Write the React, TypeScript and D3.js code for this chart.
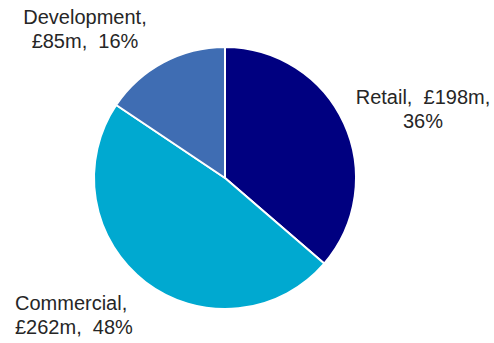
import React from "react";
import * as d3 from "d3";

const categories = ["Retail", "Commercial", "Development"];
const values = [198, 262, 85];
const colors = ["#000080", "#00A9D0", "#3F6DB3"];
const labelLines = [
  ["Retail,  £198m,", "36%"],
  ["Commercial,", "£262m,  48%"],
  ["Development,", "£85m,  16%"],
];
const labelPos = [
  { x: 423, y: 104, anchor: "middle" },
  { x: 15, y: 310, anchor: "start" },
  { x: 85, y: 24, anchor: "middle" },
];

export default function App() {
  const width = 494;
  const height = 343;
  const cx = 225;
  const cy = 178;
  const r = 131;
  const pie = d3.pie<number>().sort(null).value((d) => d);
  const arcs = pie(values);
  const arc = d3.arc<d3.PieArcDatum<number>>().innerRadius(0).outerRadius(r);
  return (
    <svg
      width={width}
      height={height}
      style={{ position: "absolute", left: 0, top: 0, background: "#fff" }}
      fontFamily="'Liberation Sans', Arial, sans-serif"
    >
      <g transform={`translate(${cx},${cy})`}>
        {arcs.map((a, i) => (
          <path
            key={categories[i]}
            d={arc(a) || ""}
            fill={colors[i]}
            stroke="#ffffff"
            strokeWidth={2}
            strokeLinejoin="round"
          />
        ))}
      </g>
      {labelLines.map((lines, i) => (
        <text
          key={categories[i]}
          x={labelPos[i].x}
          y={labelPos[i].y}
          textAnchor={labelPos[i].anchor}
          fontSize={20}
          fill="#262626"
          style={{ whiteSpace: "pre" }}
        >
          {lines.map((l, j) => (
            <tspan key={j} x={labelPos[i].x} dy={j === 0 ? 0 : 23.5}>
              {l}
            </tspan>
          ))}
        </text>
      ))}
    </svg>
  );
}
